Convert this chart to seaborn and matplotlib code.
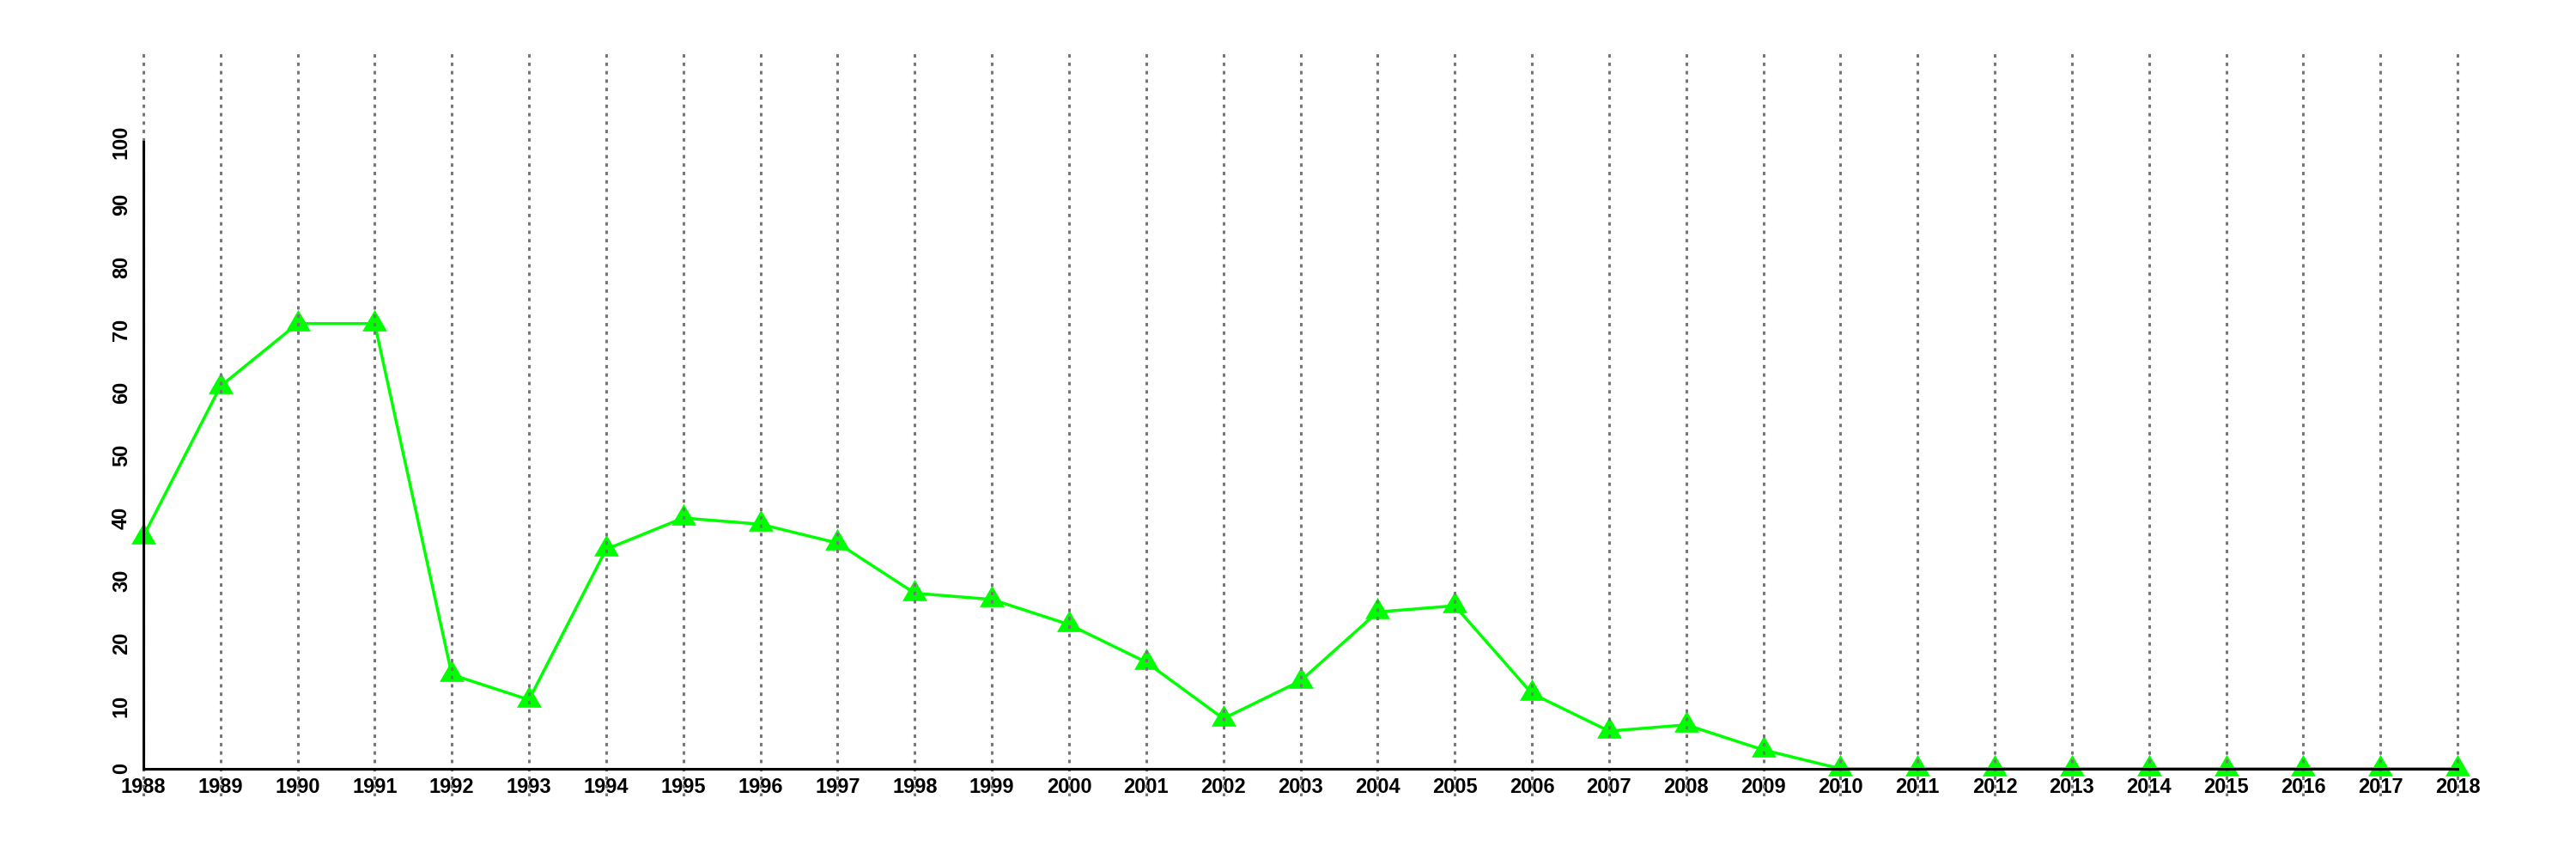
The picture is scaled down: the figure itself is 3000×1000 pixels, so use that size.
import numpy as np
import pandas as pd
import matplotlib
matplotlib.use("Agg")
import matplotlib.pyplot as plt
import seaborn as sns

# values
years = list(range(1988, 2019))
counts = [37, 61, 71, 71, 15, 11, 35, 40, 39, 36, 28, 27, 23, 17, 8, 14,
          25, 26, 12, 6, 7, 3, 0, 0, 0, 0, 0, 0, 0, 0, 0]
y_ticks = list(range(0, 101, 10))

df = pd.DataFrame({"year": years, "count": counts})

sns.set_style("white")
plt.rcParams["font.family"] = ["Liberation Sans", "DejaVu Sans"]
plt.rcParams["font.weight"] = "bold"

fig = plt.figure(figsize=(30, 10), dpi=100)
# R-like plot region
ax = fig.add_axes([59 / 3000, 73 / 1000, 2911 / 3000, 867 / 1000])

# equilateral triangle (like R pch = 17)
sns.lineplot(data=df, x="year", y="count", ax=ax, color="#00ff00",
             linewidth=2.5, marker=(3, 0, 0), markersize=24,
             markeredgewidth=0, markerfacecolor="#00ff00", zorder=2)

# R style axis limits: ylim = c(0, 110) with 4% padding
span_x = years[-1] - years[0]
ax.set_xlim(years[0] - 0.04 * span_x, years[-1] + 0.04 * span_x)
ax.set_ylim(-0.04 * 110, 110 * 1.04)
ax.set_xlabel("")
ax.set_ylabel("")

# axes drawn at x = 1988 and y = 0 (set before ticks: this resets them)
for side in ["top", "right"]:
    ax.spines[side].set_visible(False)
ax.spines["left"].set_position(("data", years[0]))
ax.spines["left"].set_bounds(0, 100)
ax.spines["bottom"].set_position(("data", 0))
ax.spines["bottom"].set_bounds(years[0], years[-1])
for side in ["left", "bottom"]:
    ax.spines[side].set_linewidth(2.2)
    ax.spines[side].set_color("black")
    ax.spines[side].set_zorder(4)

ax.set_xticks(years)
ax.set_xticklabels([str(y) for y in years])
ax.set_yticks(y_ticks)
ax.set_yticklabels([str(v) for v in y_ticks])

ax.tick_params(axis="both", which="major", direction="out", length=6,
               width=2.2, color="black", labelcolor="black", labelsize=17)
ax.tick_params(axis="x", pad=1)
ax.tick_params(axis="y", pad=4, labelrotation=90)
plt.setp(ax.get_yticklabels(), rotation_mode="default", va="center",
         ha="right")
for lab in ax.get_xticklabels() + ax.get_yticklabels():
    lab.set_fontweight("bold")

# vertical dotted lines at each year, above the data
ax.grid(False)
for y in years:
    ax.axvline(y, color="#777777", linestyle=(0, (1.3, 1.9)), linewidth=2.2,
               zorder=3)

ax.set_facecolor("white")
fig.patch.set_facecolor("white")

fig.savefig("out.png", dpi=100, facecolor="white")
